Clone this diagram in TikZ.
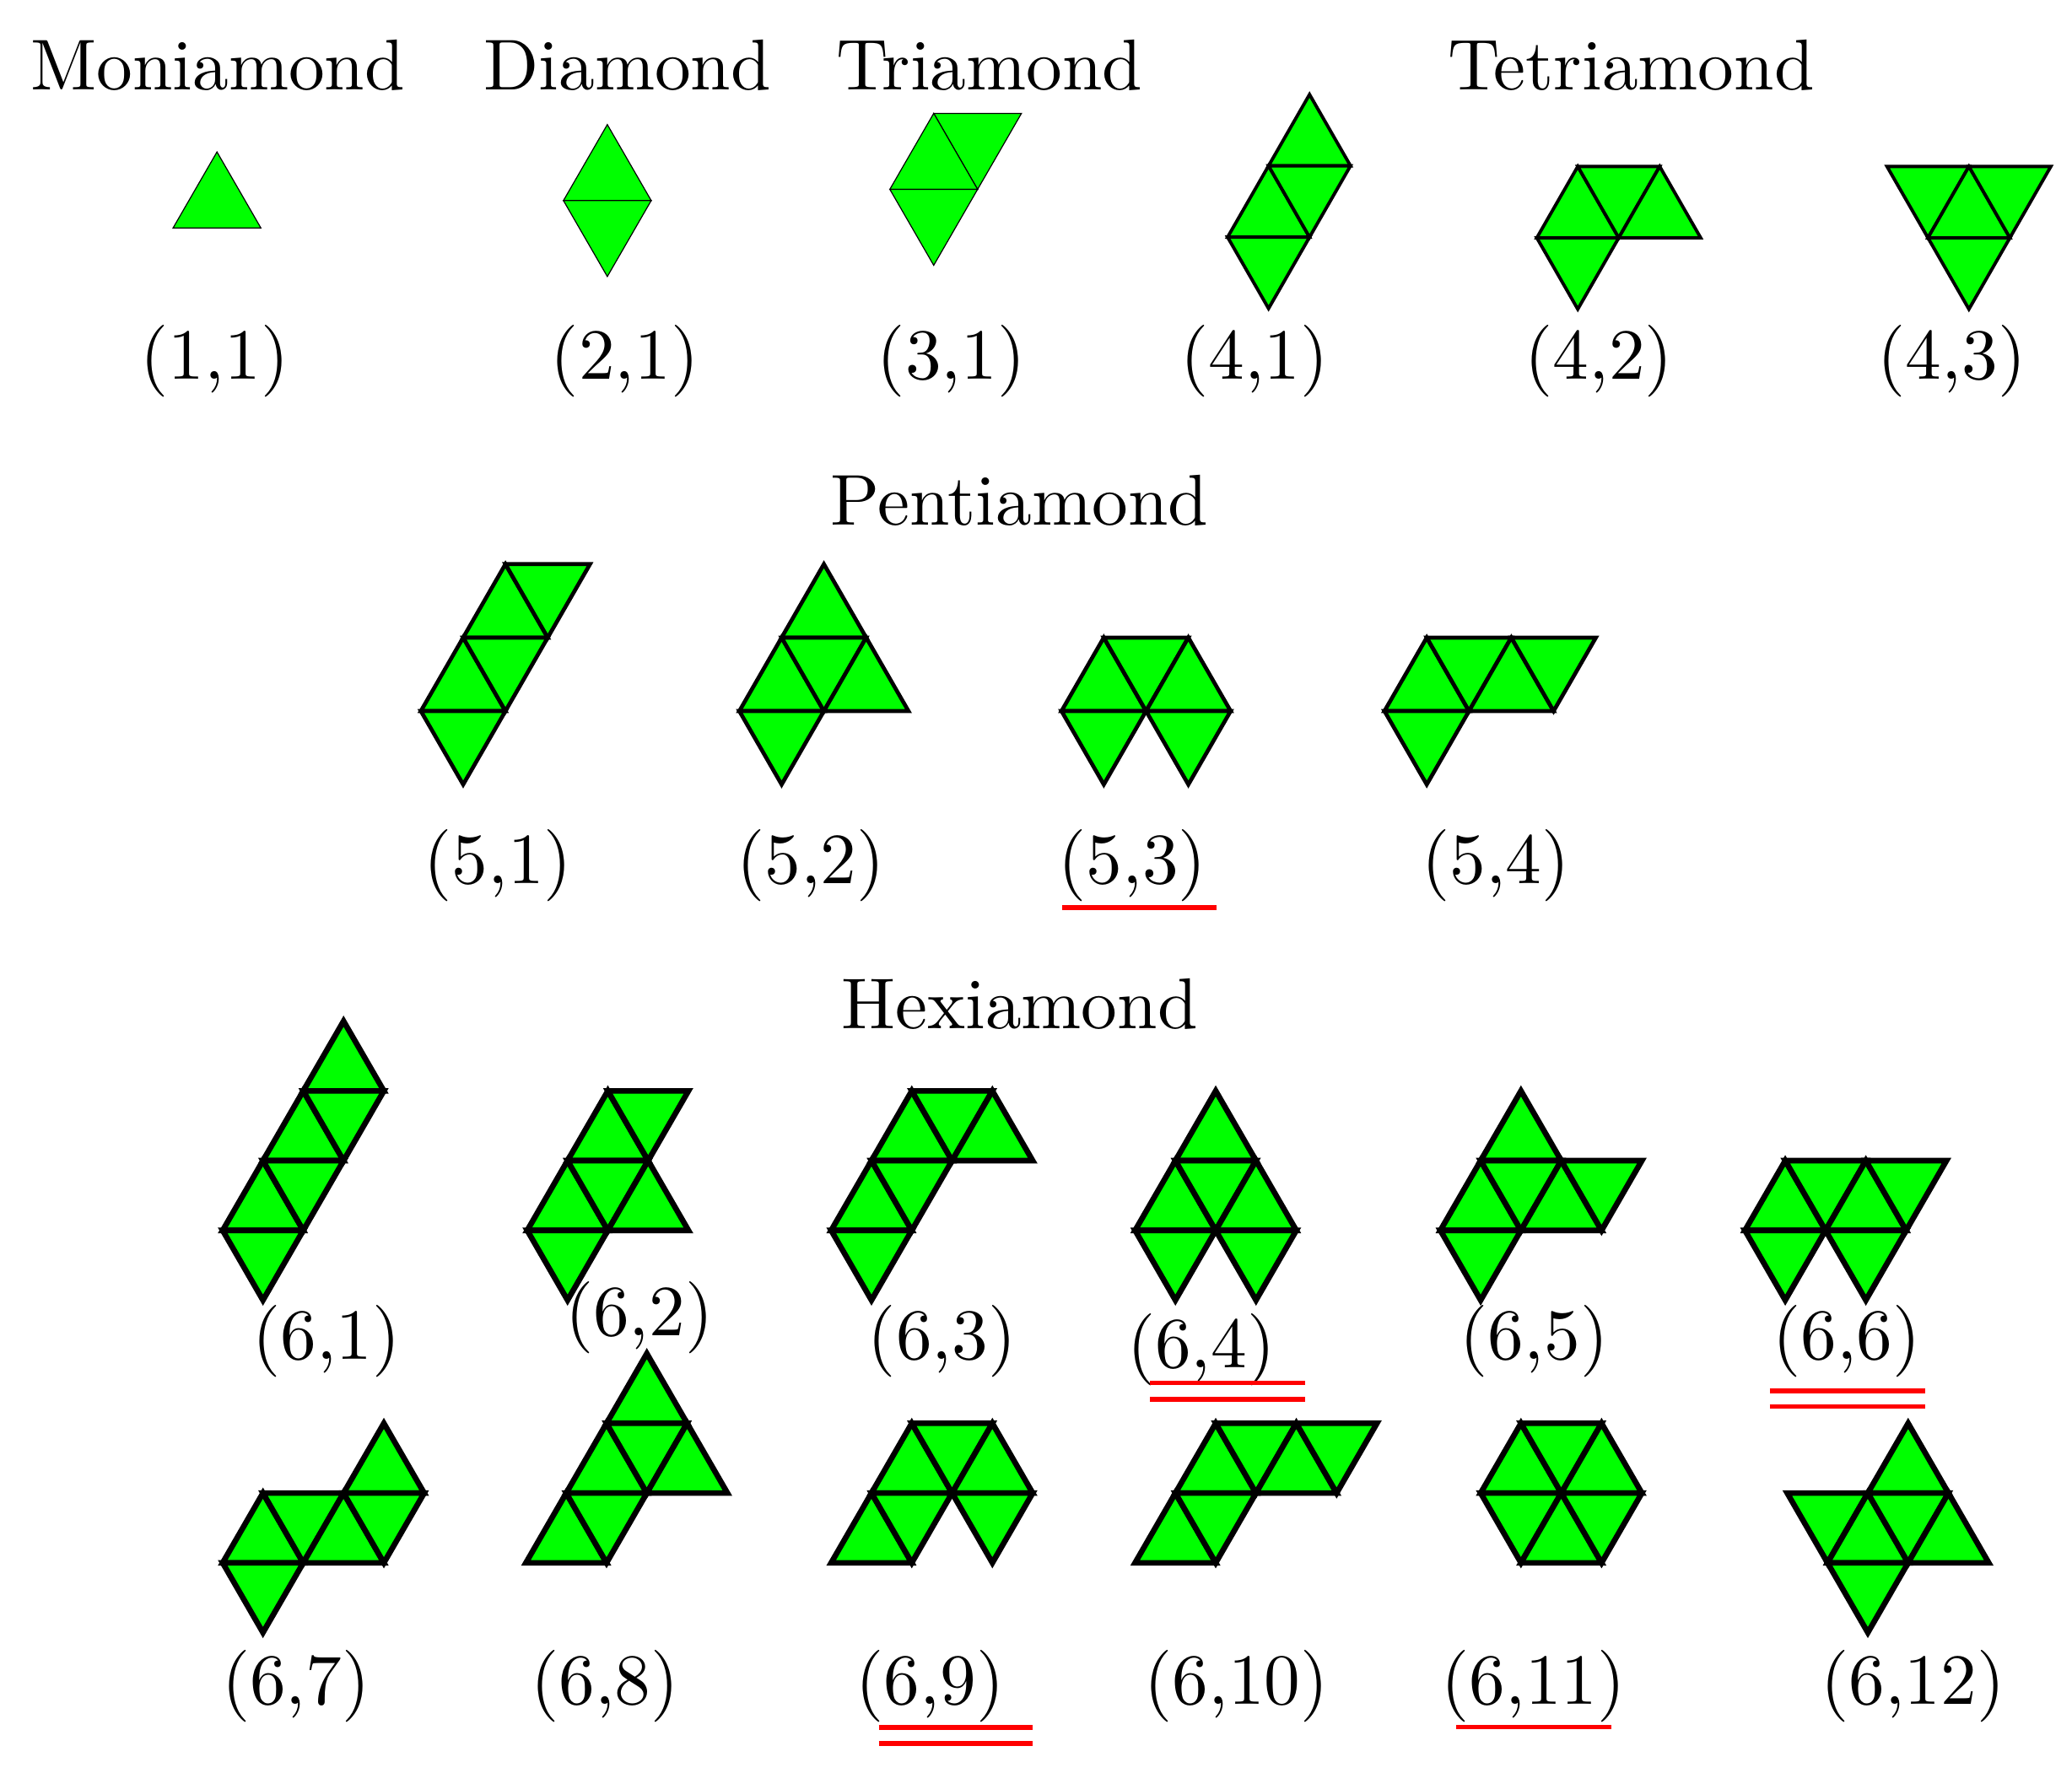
\documentclass[tikz,border=0pt]{standalone}
\usepackage{fontspec}
\setmainfont{lmroman10-regular}[Extension=.otf]
\definecolor{polygreen}{RGB}{0,255,0}
\definecolor{ulred}{RGB}{255,0,0}
\tikzset{
  cell/.style={fill=polygreen, draw=black, line join=miter},
  lat/.style n args={4}{shift={(#1,#2)}, x={(#3*0.01cm,0cm)}, y={(0cm,-#4*0.01cm)}},
  gone/.style={line width=0.22pt},
  gfour/.style={line width=0.7pt},
  gfive/.style={line width=0.85pt},
  gsix/.style={line width=1.2pt},
  txt/.style={inner sep=0pt, anchor=base, font=\fontsize{15.5}{18}\selectfont},
  ul/.style={draw=ulred, line width=1pt}
}
\newcommand\Up[2]{\filldraw[cell] (#1,#2) -- ++(-1,1) -- ++(2,0) -- cycle;}
\newcommand\Dn[2]{\filldraw[cell] (#1-1,#2) -- ++(2,0) -- ++(-1,1) -- cycle;}
\begin{document}
\begin{tikzpicture}[x=0.01cm, y=-0.01cm]
\useasboundingbox (0,0) rectangle (1568,1342);
% ---------- titles ----------
\node[txt] (tmon) at (164.8,68) {Moniamond};
\node[txt] (tdi) at (474.8,68) {Diamond};
\node[txt] (ttri) at (748.7,68) {Triamond};
\node[txt] (ttet) at (1234.3,68) {Tetriamond};
\node[txt] (tpen) at (771.5,397.5) {Pentiamond};
\node[txt] (thex) at (771.5,778.3) {Hexiamond};
% ---------- row 1 ----------
\begin{scope}[lat={164.2}{115}{33.2}{57.5}, gone]
  \Up{0}{0}
\end{scope}
\begin{scope}[lat={459.6}{94.3}{33.2}{57.5}, gone]
  \Up{0}{0} \Dn{0}{1}
\end{scope}
\begin{scope}[lat={706.6}{85.8}{33.2}{57.5}, gone]
  \Dn{1}{0} \Up{0}{0} \Dn{0}{1}
\end{scope}
\begin{scope}[lat={991}{71.5}{31}{54}, gfour]
  \Up{0}{0} \Up{-1}{1} \Dn{0}{1} \Dn{-1}{2}
\end{scope}
\begin{scope}[lat={1194}{126}{31}{54}, gfour]
  \Up{0}{0} \Dn{1}{0} \Up{2}{0} \Dn{0}{1}
\end{scope}
\begin{scope}[lat={1428}{126}{31}{54}, gfour]
  \Dn{1}{0} \Up{2}{0} \Dn{3}{0} \Dn{2}{1}
\end{scope}
\node[txt] (l11) at (162.5,287) {(1,1)};
\node[txt] (l21) at (472.8,287) {(2,1)};
\node[txt] (l31) at (720,287) {(3,1)};
\node[txt] (l41) at (949.4,287) {(4,1)};
\node[txt] (l42) at (1210,287) {(4,2)};
\node[txt] (l43) at (1477,287) {(4,3)};
% ---------- pentiamonds ----------
\begin{scope}[lat={382.5}{427}{32}{55.6}, gfive]
  \Up{0}{0} \Dn{1}{0} \Up{-1}{1} \Dn{0}{1} \Dn{-1}{2}
\end{scope}
\begin{scope}[lat={623.5}{427}{32}{55.6}, gfive]
  \Up{0}{0} \Up{-1}{1} \Dn{0}{1} \Up{1}{1} \Dn{-1}{2}
\end{scope}
\begin{scope}[lat={835.3}{482.6}{32}{55.6}, gfive]
  \Up{0}{0} \Dn{1}{0} \Up{2}{0} \Dn{0}{1} \Dn{2}{1}
\end{scope}
\begin{scope}[lat={1079.7}{482.6}{32}{55.6}, gfive]
  \Up{0}{0} \Dn{1}{0} \Up{2}{0} \Dn{3}{0} \Dn{0}{1}
\end{scope}
\node[txt] (l51) at (376.8,669) {(5,1)};
\node[txt] (l52) at (613.5,669) {(5,2)};
\node[txt] (l53) at (857,669) {(5,3)};
\node[txt] (l54) at (1132,669) {(5,4)};
\draw[ul] (803.6,687) -- (920.8,687);
% ---------- hexiamonds, first row ----------
\begin{scope}[lat={260}{772.9}{30.5}{52.8}, gsix]
  \Up{0}{0} \Up{-1}{1} \Dn{0}{1} \Up{-2}{2} \Dn{-1}{2} \Dn{-2}{3}
\end{scope}
\begin{scope}[lat={460}{825.7}{30.5}{52.8}, gsix]
  \Up{0}{0} \Dn{1}{0} \Up{-1}{1} \Dn{0}{1} \Up{1}{1} \Dn{-1}{2}
\end{scope}
\begin{scope}[lat={690}{825.7}{30.5}{52.8}, gsix]
  \Up{0}{0} \Dn{1}{0} \Up{2}{0} \Up{-1}{1} \Dn{0}{1} \Dn{-1}{2}
\end{scope}
\begin{scope}[lat={920}{772.9}{30.5}{52.8}, gsix]
  \Up{0}{1} \Up{-1}{2} \Dn{0}{2} \Up{1}{2} \Dn{-1}{3} \Dn{1}{3}
\end{scope}
\begin{scope}[lat={1151}{772.9}{30.5}{52.8}, gsix]
  \Up{0}{1} \Up{-1}{2} \Dn{0}{2} \Up{1}{2} \Dn{2}{2} \Dn{-1}{3}
\end{scope}
\begin{scope}[lat={1351}{878.5}{30.5}{52.8}, gsix]
  \Up{0}{0} \Dn{1}{0} \Up{2}{0} \Dn{3}{0} \Dn{0}{1} \Dn{2}{1}
\end{scope}
\node[txt] (l61) at (247,1029) {(6,1)};
\node[txt] (l62) at (483.8,1011) {(6,2)};
\node[txt] (l63) at (712.9,1029) {(6,3)};
\node[txt] (l64) at (909,1035) {(6,4)};
\node[txt] (l65) at (1161,1029) {(6,5)};
\node[txt] (l66) at (1397.5,1029) {(6,6)};
\draw[ul] (870.2,1046.8) -- (987.5,1046.8);
\draw[ul] (870.2,1059.2) -- (987.5,1059.2);
\draw[ul] (1339.3,1052.8) -- (1456.6,1052.8);
\draw[ul] (1339.3,1064.7) -- (1456.6,1064.7);
% ---------- hexiamonds, second row ----------
\begin{scope}[lat={290.5}{1077.3}{30.5}{52.8}, gsix]
  \Up{0}{0} \Up{-3}{1} \Dn{-2}{1} \Up{-1}{1} \Dn{0}{1} \Dn{-3}{2}
\end{scope}
\begin{scope}[lat={489.5}{1024.5}{30.5}{52.8}, gsix]
  \Up{0}{0} \Up{-1}{1} \Dn{0}{1} \Up{1}{1} \Up{-2}{2} \Dn{-1}{2}
\end{scope}
\begin{scope}[lat={690}{1077.3}{30.5}{52.8}, gsix]
  \Up{0}{0} \Dn{1}{0} \Up{2}{0} \Up{-1}{1} \Dn{0}{1} \Dn{2}{1}
\end{scope}
\begin{scope}[lat={920}{1077.3}{30.5}{52.8}, gsix]
  \Up{0}{0} \Dn{1}{0} \Up{2}{0} \Dn{3}{0} \Up{-1}{1} \Dn{0}{1}
\end{scope}
\begin{scope}[lat={1151}{1077.3}{30.5}{52.8}, gsix]
  \Up{0}{0} \Dn{1}{0} \Up{2}{0} \Dn{0}{1} \Up{1}{1} \Dn{2}{1}
\end{scope}
\begin{scope}[lat={1444}{1077.3}{30.5}{52.8}, gsix]
  \Up{0}{0} \Dn{-2}{1} \Up{-1}{1} \Dn{0}{1} \Up{1}{1} \Dn{-1}{2}
\end{scope}
\node[txt] (l67) at (224,1290) {(6,7)};
\node[txt] (l68) at (457.7,1290) {(6,8)};
\node[txt] (l69) at (703.9,1290) {(6,9)};
\node[txt] (l610) at (935.7,1290) {(6,10)};
\node[txt] (l611) at (1160.5,1290) {(6,11)};
\node[txt] (l612) at (1447.6,1290) {(6,12)};
\draw[ul] (665,1307.4) -- (781.3,1307.4);
\draw[ul] (665,1319.5) -- (781.3,1319.5);
\draw[ul] (1101.9,1307.3) -- (1219.2,1307.3);
\end{tikzpicture}
\end{document}
